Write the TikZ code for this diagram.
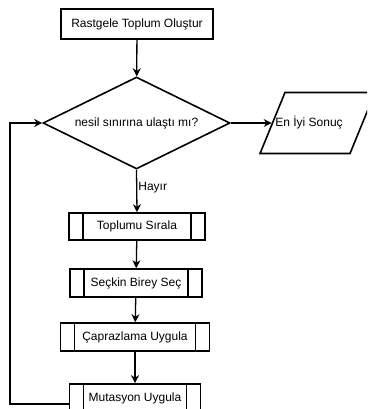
\documentclass[tikz,border=0pt]{standalone}
\usepackage{fontspec}
\setmainfont{Liberation Sans}
\usetikzlibrary{positioning,arrows.meta,shapes.geometric}

\begin{document}
\begin{tikzpicture}[x=1pt, y=-1pt, font=\fontsize{12}{14}\selectfont, >={Stealth[length=8pt,width=8pt]},
  box/.style={draw, line width=1.6pt, inner sep=0pt},
  subproc/.style={box, path picture={
      \draw[line width=1.4pt] ([xshift=14pt]path picture bounding box.north west) -- ([xshift=14pt]path picture bounding box.south west);
      \draw[line width=1.4pt] ([xshift=-14pt]path picture bounding box.north east) -- ([xshift=-14pt]path picture bounding box.south east);}},
  decision/.style={diamond, aspect=2, draw, line width=1.6pt, inner sep=0pt, minimum width=187pt, minimum height=92pt},
  io/.style={trapezium, trapezium left angle=69, trapezium right angle=111, trapezium stretches=true,
    draw, line width=1.6pt, minimum width=115pt, minimum height=61pt},
  flow/.style={->, line width=1.3pt}]
  \clip (0,0) rectangle (367,409);
  \node[box, minimum width=152pt, minimum height=30pt] (init) at (137,24) {Rastgele Toplum Oluştur};
  \node[decision] (limit) at (136.5,123) {nesil sınırına ulaştı mı?};
  \node[io] (best) at (317.5,123) {};
  \node (bestlbl) at (309,123) {En İyi Sonuç};
  \node[subproc, minimum width=136pt, minimum height=27pt] (sort) at (137,226.5) {Toplumu Sırala};
  \node[subproc, minimum width=132pt, minimum height=28pt] (elite) at (136,283) {Seçkin Birey Seç};
  \node[subproc, minimum width=149pt, minimum height=28pt] (cross) at (135,337) {Çaprazlama Uygula};
  \node[subproc, minimum width=131pt, minimum height=28pt] (mutate) at (135,398) {Mutasyon Uygula};
  \coordinate (back) at (10,404);
  \draw[flow] (init) -- (limit);
  \draw[flow] (limit.east) -- (best);
  \draw[flow] (limit.south) -- node[right, pos=0.42, inner sep=1pt] (no) {Hayır} (sort.north);
  \draw[flow] (sort) -- (elite);
  \draw[flow] (elite) -- (cross);
  \draw[flow] (cross) -- (mutate);
  \draw[flow] ([yshift=-6pt]mutate.west) -- (back) |- (limit.west);
\end{tikzpicture}
\end{document}
